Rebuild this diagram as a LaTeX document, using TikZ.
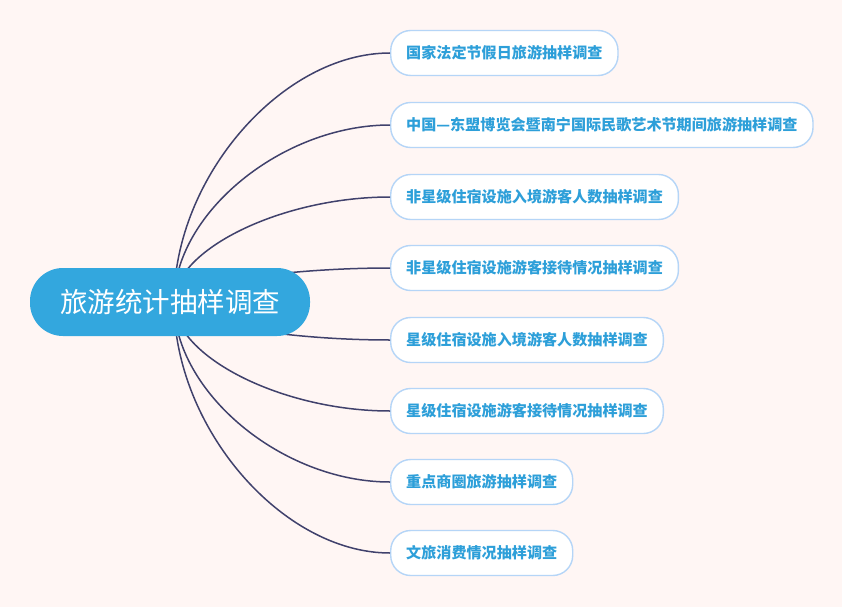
\documentclass[tikz,border=0pt]{standalone}
\usepackage{fontspec}
\setmainfont{Noto Sans CJK SC}
\begin{document}
\begin{tikzpicture}[x=1pt,y=-1pt,
  link/.style={draw=linec,line width=1.5pt},
  rootbox/.style={fill=rootc,rounded corners=33pt,minimum width=280pt,minimum height=68pt,text=white,font=\fontsize{27.5}{30}\selectfont,inner sep=0pt},
  leaf/.style={draw=borderc,line width=1.4pt,fill=white,rounded corners=20pt,minimum height=45pt,inner xsep=15.5pt,text=textc,font=\bfseries\fontsize{15.1}{16}\selectfont,anchor=west}]
\definecolor{bgc}{HTML}{FFF6F4}
\definecolor{rootc}{HTML}{33A7DE}
\definecolor{linec}{HTML}{40416C}
\definecolor{borderc}{HTML}{B5D5F7}
\definecolor{textc}{HTML}{2D9FD9}
\fill[bgc] (0,0) rectangle (842,607);
\useasboundingbox (0,0) rectangle (842,607);
\coordinate (o) at (174,302);
\node[leaf] (b1) at (390,53) {国家法定节假日旅游抽样调查};
\node[leaf] (b2) at (390,125) {中国—东盟博览会暨南宁国际民歌艺术节期间旅游抽样调查};
\node[leaf] (b3) at (390,197) {非星级住宿设施入境游客人数抽样调查};
\node[leaf] (b4) at (390,268) {非星级住宿设施游客接待情况抽样调查};
\node[leaf] (b5) at (390,340) {星级住宿设施入境游客人数抽样调查};
\node[leaf] (b6) at (390,411) {星级住宿设施游客接待情况抽样调查};
\node[leaf] (b7) at (390,482) {重点商圈旅游抽样调查};
\node[leaf] (b8) at (390,553) {文旅消费情况抽样调查};
\foreach \b/\yy in {b1/53,b2/125,b3/197,b4/268,b5/340,b6/411,b7/482,b8/553}{
  \pgfmathsetmacro{\cy}{(302+\yy)/2}
  \draw[link] (o) .. controls (174,\cy) and (282,\yy) .. (\b.west);
}
\node[rootbox] (root) at (170,302) {旅游统计抽样调查};
\end{tikzpicture}
\end{document}
